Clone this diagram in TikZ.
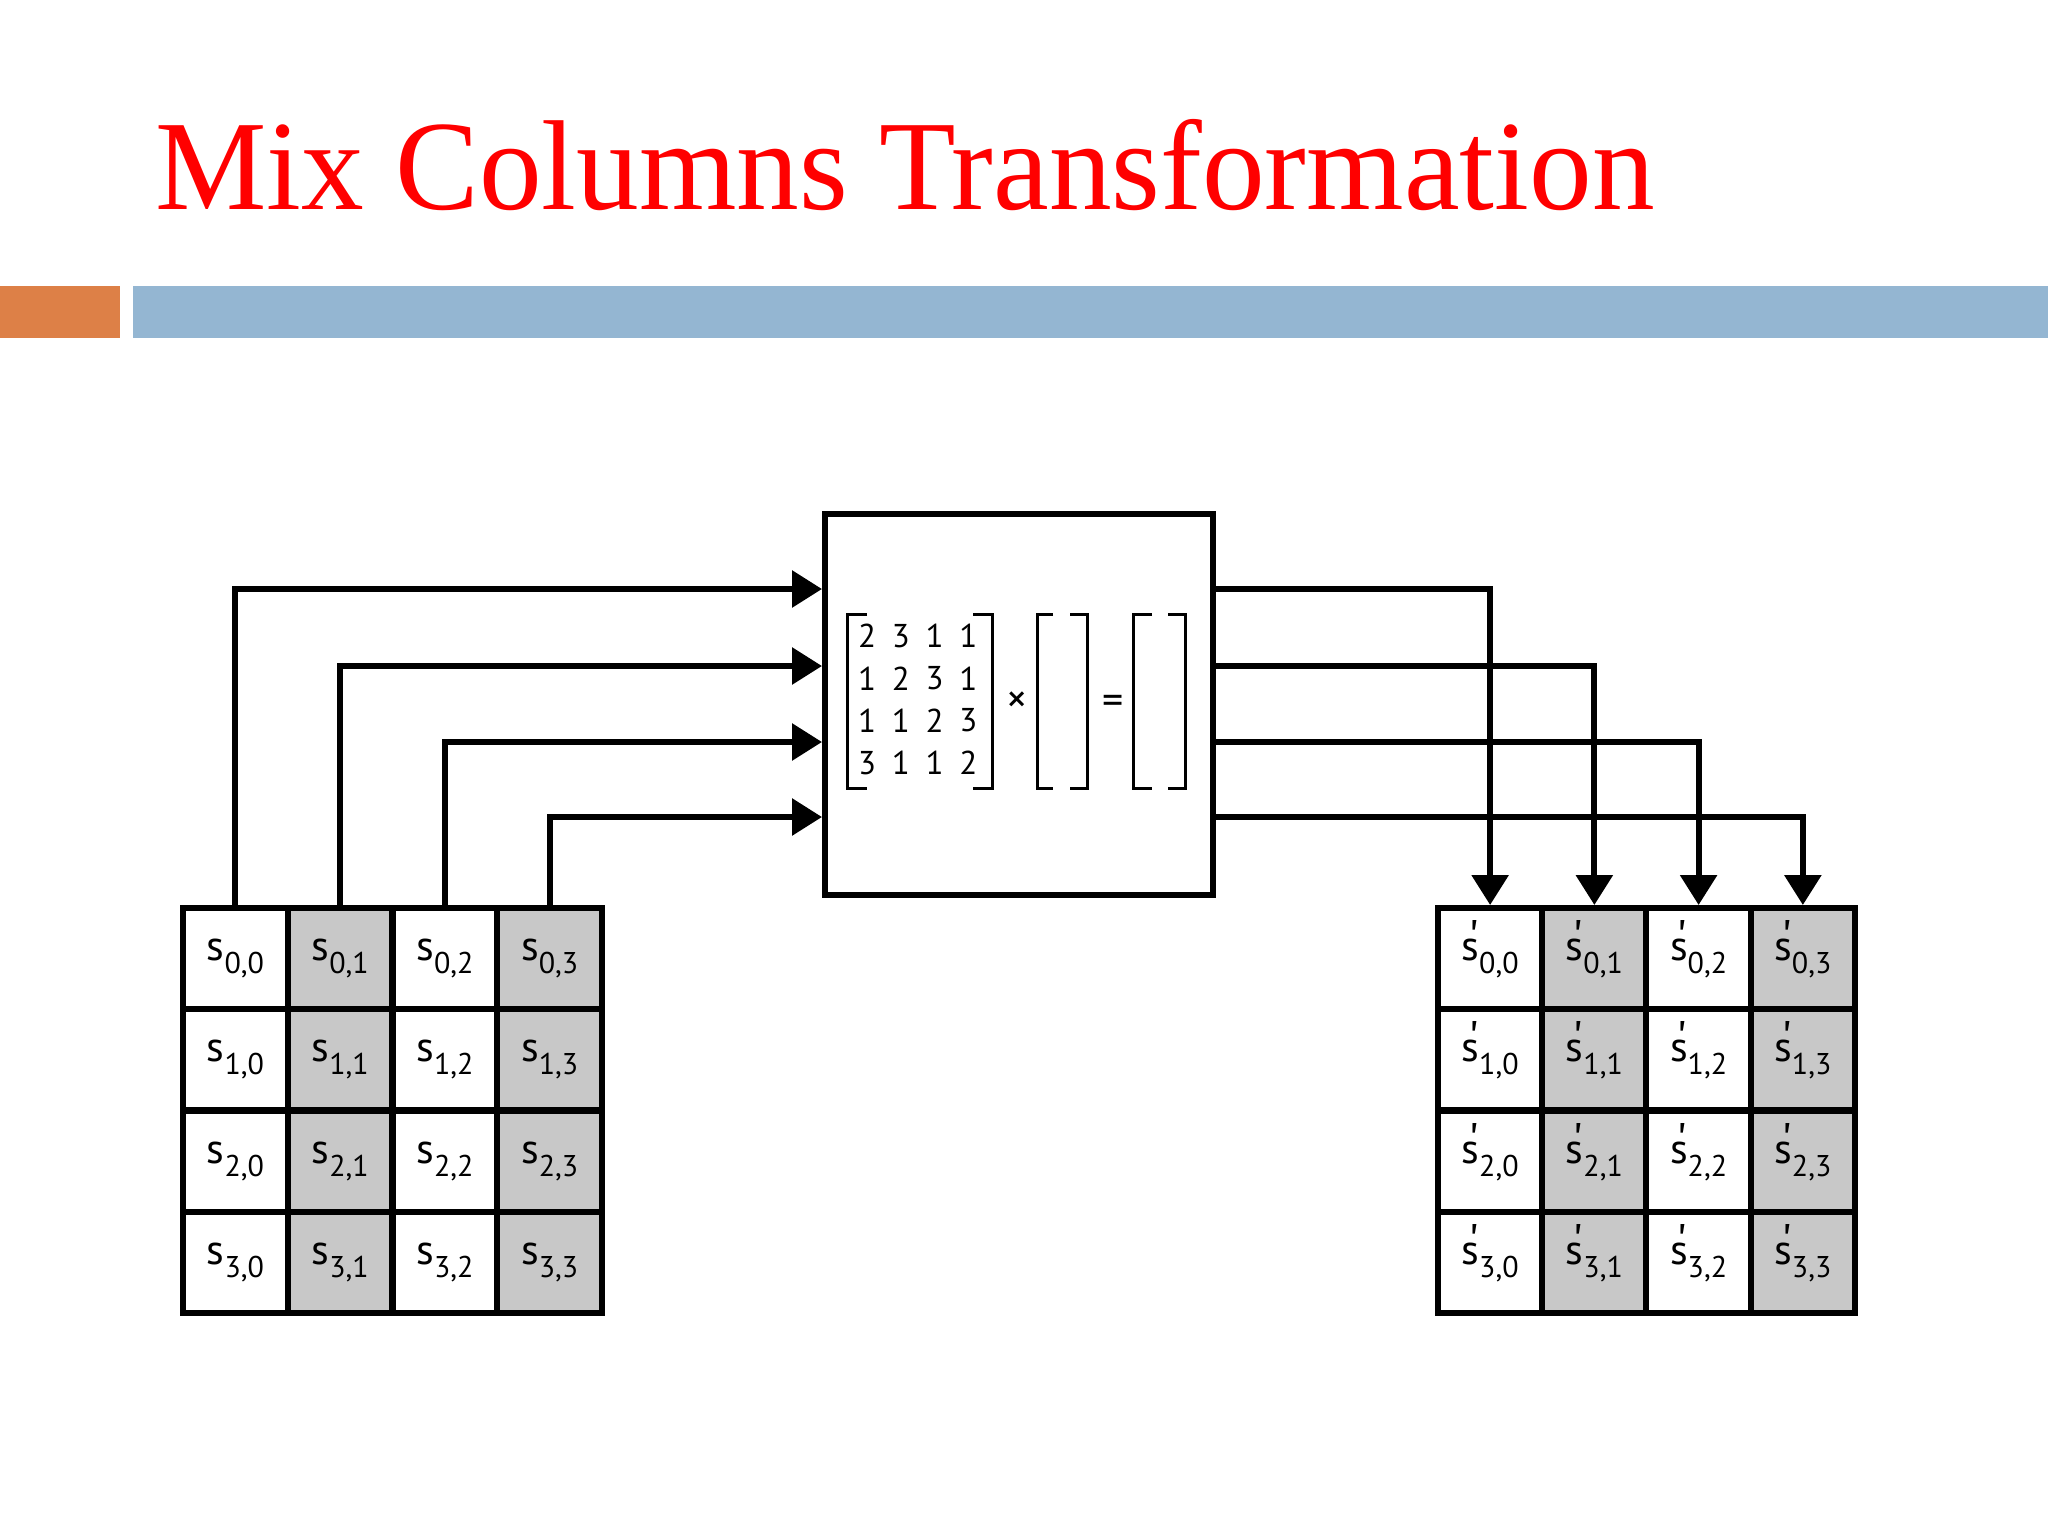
\documentclass[tikz,border=0pt]{standalone}
\usepackage{fontspec}
\usetikzlibrary{arrows.meta}
\newfontfamily\titlefont{Liberation Serif}
\newfontfamily\cellfont{PT Sans}
\definecolor{titlered}{RGB}{255,0,0}
\definecolor{barorange}{RGB}{221,128,71}
\definecolor{barblue}{RGB}{148,182,210}
\definecolor{cellgray}{RGB}{200,200,200}
\newcommand{\sv}[2]{{\fontsize{21}{21}\selectfont s}\raisebox{-6.5pt}{\fontsize{15}{15}\selectfont #1,#2}}
\newcommand{\svp}[2]{{\fontsize{21}{21}\selectfont s\smash{\llap{\raisebox{2.5pt}{\fontsize{25}{25}\selectfont\char"27}\kern0pt}}}\raisebox{-6.5pt}{\fontsize{15}{15}\selectfont #1,#2}}
\tikzset{
  cell/.style={draw, line width=3pt, minimum width=52.25pt, minimum height=50.6pt, inner sep=0pt, font=\cellfont},
  digit/.style={inner sep=0pt, font=\cellfont\fontsize{16.5}{16.5}\selectfont},
  opsym/.style={inner sep=0pt, font=\cellfont\fontsize{21}{21}\selectfont},
  bracket/.style={line width=1.5pt},
  conn/.style={line width=3pt, -{Triangle[width=18pt,length=15pt]}},
  mixbox/.style={draw, line width=3pt, minimum width=194pt, minimum height=190.5pt, inner sep=0pt}
}
\begin{document}
\begin{tikzpicture}[x=0.5pt,y=-0.5pt]
\useasboundingbox (0,0) rectangle (2048,1536);
\fill[white] (0,0) rectangle (2048,1536);
\fill[barorange] (0,286) rectangle (120,338);
\fill[barblue] (133,286) rectangle (2048,338);
\node[anchor=base west, inner sep=0pt, text=titlered, font={\titlefont\fontsize{64}{64}\selectfont}] (title) at (155,209) {\scalebox{0.979}[1]{Mix Columns Transformation}};
% state grids
\foreach \r in {0,...,3} {
  \foreach \c in {0,...,3} {
    \pgfmathsetmacro\xl{235.4+104.75*\c}
    \pgfmathsetmacro\xr{1490.1+104.25*\c}
    \pgfmathsetmacro\yy{958.6+101.25*\r}
    \ifodd\c \def\cf{cellgray}\else\def\cf{white}\fi
    \node[cell, fill=\cf] (L\r\c) at (\xl,\yy) {\sv{\r}{\c}};
    \node[cell, fill=\cf] (R\r\c) at (\xr,\yy) {\svp{\r}{\c}};
  }
}
% mix box
\node[mixbox] (mix) at (1019,704.5) {};
\foreach [count=\i from 0] \row in {{2,3,1,1},{1,2,3,1},{1,1,2,3},{3,1,1,2}} {
  \foreach [count=\j from 0] \v in \row {
    \node[digit] (m\i\j) at ({867+33.8*\j},{636+42.3*\i}) {\v};
  }
}
\draw[bracket] (867,614) -| (847,788) -- (867,788);
\draw[bracket] (973,614) -| (992,788) -- (973,788);
\draw[bracket] (1053,614) -| (1037,788) -- (1053,788);
\draw[bracket] (1070,614) -| (1087,788) -- (1070,788);
\draw[bracket] (1152,614) -| (1133,788) -- (1152,788);
\draw[bracket] (1168,614) -| (1185,788) -- (1168,788);
\node[opsym] (times) at (1017,703) {×};
\node[opsym] (equals) at (1113,705) {=};
% connectors
\foreach \c/\yl in {0/589,1/666,2/742,3/817} {
  \coordinate (in\c) at (mix.west |- 0,\yl);
  \coordinate (out\c) at (mix.east |- 0,\yl);
  \draw[conn] (L0\c.north) |- (in\c);
  \draw[conn] (out\c) -| (R0\c.north);
}
\end{tikzpicture}
\end{document}
